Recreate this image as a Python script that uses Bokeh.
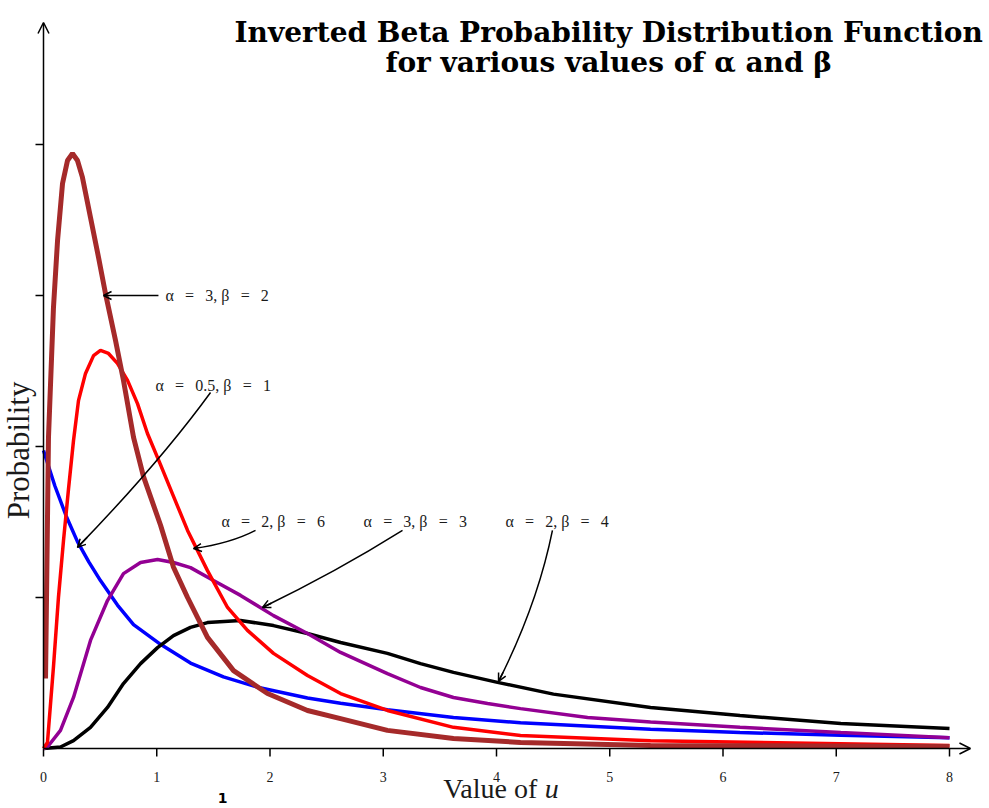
import math
from bokeh.plotting import figure
from bokeh.models import Range1d, Label, Arrow, OpenHead
from bokeh.core.properties import value
from bokeh.embed import file_html
from bokeh.resources import INLINE

# ---------------- data ----------------
brown_x = [0.018, 0.044, 0.088, 0.124, 0.168, 0.212, 0.256, 0.300, 0.344, 0.415, 0.486, 0.547,
           0.636, 0.706, 0.795, 0.883, 1.033, 1.148, 1.272, 1.448, 1.678, 1.978, 2.331, 2.623,
           3.037, 3.620, 4.212, 5.36, 8.0]
brown_y = [0.232, 1.030, 1.460, 1.682, 1.871, 1.947, 1.970, 1.947, 1.891, 1.758, 1.626, 1.507,
           1.351, 1.219, 1.030, 0.900, 0.740, 0.600, 0.500, 0.368, 0.258, 0.182, 0.126, 0.099,
           0.060, 0.033, 0.020, 0.010, 0.007]

red_x = [0.0, 0.035, 0.088, 0.132, 0.177, 0.221, 0.265, 0.309, 0.371, 0.442, 0.503, 0.574,
         0.653, 0.742, 0.830, 0.918, 1.033, 1.148, 1.272, 1.448, 1.625, 1.801, 2.031, 2.331,
         2.623, 3.037, 3.620, 4.212, 5.36, 8.0]
red_y = [0.0, 0.020, 0.270, 0.500, 0.690, 0.860, 1.020, 1.152, 1.242, 1.301, 1.318, 1.308,
         1.275, 1.219, 1.142, 1.043, 0.940, 0.835, 0.722, 0.589, 0.467, 0.391, 0.315, 0.242,
         0.182, 0.126, 0.070, 0.043, 0.026, 0.010]

blue_x = [0.0, 0.1, 0.2, 0.3, 0.4, 0.503, 0.653, 0.795, 1.033, 1.298, 1.589, 1.890, 2.331,
          2.623, 3.037, 3.620, 4.212, 5.36, 6.15, 7.04, 8.0]
blue_y = [0.987, 0.870, 0.770, 0.685, 0.618, 0.556, 0.475, 0.410, 0.345, 0.283, 0.237, 0.203,
          0.167, 0.150, 0.128, 0.103, 0.085, 0.064, 0.053, 0.044, 0.036]

purple_x = [0.0, 0.035, 0.150, 0.265, 0.415, 0.565, 0.706, 0.857, 1.007, 1.148, 1.298, 1.501,
            1.740, 2.031, 2.331, 2.623, 3.037, 3.329, 3.620, 3.921, 4.212, 4.804, 5.36, 6.15,
            7.04, 8.0]
purple_y = [0.0, 0.005, 0.060, 0.169, 0.358, 0.490, 0.579, 0.616, 0.626, 0.616, 0.599, 0.556,
            0.507, 0.440, 0.381, 0.318, 0.248, 0.202, 0.169, 0.149, 0.132, 0.103, 0.088, 0.070,
            0.053, 0.036]

black_x = [0.0, 0.15, 0.265, 0.415, 0.565, 0.706, 0.857, 1.007, 1.148, 1.298, 1.448, 1.740,
           2.031, 2.331, 2.623, 3.037, 3.329, 3.620, 4.009, 4.503, 5.36, 6.15, 7.04, 8.0]
black_y = [0.0, 0.005, 0.026, 0.070, 0.136, 0.215, 0.281, 0.334, 0.374, 0.401, 0.417, 0.424,
           0.407, 0.381, 0.351, 0.315, 0.281, 0.252, 0.219, 0.180, 0.136, 0.109, 0.083, 0.066]

x_ticks = [0, 1, 2, 3, 4, 5, 6, 7, 8]
x_tick_labels = ["0", "1", "2", "3", "4", "5", "6", "7", "8"]
y_ticks = [0.5, 1.0, 1.5, 2.0]

EQ = "\u2002\u2009=\u2002\u2009"
curve_labels = ["α" + EQ + "3, β" + EQ + "2",
                "α" + EQ + "0.5, β" + EQ + "1",
                "α" + EQ + "2, β" + EQ + "6",
                "α" + EQ + "3, β" + EQ + "3",
                "α" + EQ + "2, β" + EQ + "4"]

title_line1 = "Inverted Beta Probability Distribution Function"
title_line2 = "for various values of α and β"

# ---------------- figure ----------------
SERIF = "Liberation Serif"
PX = 113.25        # pixels per x unit
PY = 302.0         # pixels per y unit
X_MAX = 8.185      # end of x-axis arrow
Y_MAX = 2.404      # end of y-axis arrow

p = figure(width=989, height=808, output_backend="svg", toolbar_location=None,
           x_axis_type=None, y_axis_type=None,
           x_range=Range1d(-43 / PX, 946 / PX), y_range=Range1d(-60 / PY, 748 / PY),
           min_border=0, min_border_left=0, min_border_right=0, min_border_top=0,
           min_border_bottom=0)
p.outline_line_color = None
p.background_fill_color = "white"
p.border_fill_color = "white"

# axis lines with arrowheads
p.add_layout(Arrow(end=OpenHead(size=11, line_width=1.5), x_start=0, y_start=0, x_end=X_MAX, y_end=0,
                   line_width=1.5))
p.add_layout(Arrow(end=OpenHead(size=11, line_width=1.5), x_start=0, y_start=0, x_end=0, y_end=Y_MAX,
                   line_width=1.5))
# ticks
p.segment(x0=x_ticks, y0=[0] * len(x_ticks), x1=x_ticks, y1=[-8 / PY] * len(x_ticks),
          line_color="black", line_width=1.5)
p.segment(x0=[0] * len(y_ticks), y0=y_ticks, x1=[-8 / PX] * len(y_ticks), y1=y_ticks,
          line_color="black", line_width=1.5)
p.text(x=x_ticks, y=[-28 / PY] * len(x_ticks), text=x_tick_labels, text_font=value(SERIF),
       text_font_size="14px", text_align="center", text_baseline="middle", text_color="#1a1a1a")

# curves
p.line(blue_x, blue_y, line_color="#0000ff", line_width=3.5)
p.line(black_x, black_y, line_color="black", line_width=3.5)
p.line(purple_x, purple_y, line_color="#930093", line_width=3.5)
p.line(red_x, red_y, line_color="#ff0000", line_width=3.5)
p.line(brown_x, brown_y, line_color="#a52a2a", line_width=5)

# annotations: text position, arrow start, control, end
ann_text_pos = [(1.077, 1.500), (0.989, 1.202), (1.572, 0.752), (2.826, 0.752), (4.079, 0.752)]
ann_arrows = [((1.015, 1.500), None, (0.530, 1.500)),
              ((1.475, 1.179), (1.020, 0.945), (0.300, 0.666)),
              ((1.872, 0.722), (1.651, 0.679), (1.325, 0.662)),
              ((3.170, 0.722), (2.578, 0.583), (1.934, 0.467)),
              ((4.494, 0.722), (4.362, 0.477), (4.018, 0.222))]

for txt, (tx, ty) in zip(curve_labels, ann_text_pos):
    p.add_layout(Label(x=tx, y=ty, text=txt, text_font=SERIF, text_font_size="16px",
                       text_align="left", text_baseline="middle", text_color="#1a1a1a"))

for (s, c, e) in ann_arrows:
    if c is None:
        p.add_layout(Arrow(end=OpenHead(size=8, line_width=1.5), x_start=s[0], y_start=s[1],
                           x_end=e[0], y_end=e[1], line_width=1.5))
    else:
        p.quadratic(x0=[s[0]], y0=[s[1]], x1=[e[0]], y1=[e[1]], cx=[c[0]], cy=[c[1]],
                    line_color="black", line_width=1.5)
        hx = e[0] + 0.12 * (c[0] - e[0])
        hy = e[1] + 0.12 * (c[1] - e[1])
        p.add_layout(Arrow(end=OpenHead(size=8, line_width=1.5), x_start=hx, y_start=hy,
                           x_end=e[0], y_end=e[1], line_width=1.5))

# title
TFONT = "DejaVu Serif"
p.add_layout(Label(x=4.99, y=2.371, text=title_line1, text_font=TFONT, text_font_size="28px",
                   text_font_style="bold", text_align="center", text_baseline="alphabetic",
                   text_color="black"))
p.add_layout(Label(x=4.99, y=2.272, text=title_line2, text_font=TFONT, text_font_size="28px",
                   text_font_style="bold", text_align="center", text_baseline="alphabetic",
                   text_color="black"))

# axis titles
p.add_layout(Label(x=-25 / PX, y=0.987, text="Probability", text_font=SERIF, text_font_size="31px",
                   angle=math.pi / 2, text_align="center", text_baseline="middle", text_color="#1a1a1a"))
p.add_layout(Label(x=4.36, y=-40 / PY, text="Value of", text_font=SERIF, text_font_size="28px",
                   text_align="right", text_baseline="middle", text_color="#1a1a1a"))
p.add_layout(Label(x=4.425, y=-40 / PY, text="u", text_font=SERIF, text_font_size="28px",
                   text_font_style="italic", text_align="left", text_baseline="middle",
                   text_color="#1a1a1a"))

# stray glyph at the bottom of the reference
p.add_layout(Label(x=1.581, y=-44 / PY, text="1", text_font="DejaVu Sans", text_font_size="14px",
                   text_font_style="bold", text_align="center", text_baseline="top",
                   text_color="black"))

open("out.html", "w").write(file_html(p, INLINE))
